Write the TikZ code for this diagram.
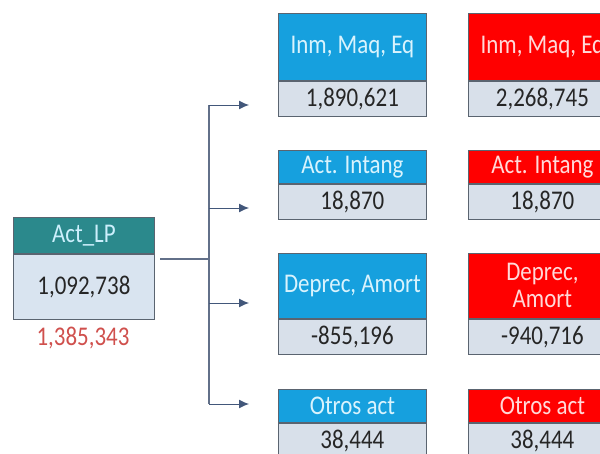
\documentclass[tikz,border=0pt]{standalone}
\usepackage{fontspec}
\setmainfont{Carlito}[FakeStretch=0.85]
\usetikzlibrary{arrows.meta}
\definecolor{tealhd}{HTML}{2B898C}
\definecolor{bluehd}{HTML}{16A0DE}
\definecolor{redhd}{HTML}{FF0000}
\definecolor{valfill}{HTML}{D8E0EA}
\definecolor{leftfill}{HTML}{D9E4F0}
\definecolor{rimgray}{HTML}{5A6470}
\definecolor{linkblue}{HTML}{4E6690}
\definecolor{sumred}{HTML}{D0504D}
\tikzset{
	box/.style={draw=rimgray, line width=0.8pt, anchor=north west, inner sep=0pt,
		align=center, font=\fontsize{27}{27}\selectfont},
	tealbox/.style={box, fill=tealhd, text=cyan!20!white, minimum width=141pt},
	bluebox/.style={box, fill=bluehd, text=cyan!15!white, minimum width=148pt},
	redbox/.style={box, fill=redhd, text=red!15!white, minimum width=148pt},
	valbox/.style={box, fill=valfill, text=black!85, minimum height=35pt},
	feed/.style={draw=linkblue!85!black, line width=1pt, -{Latex[length=10pt,width=9pt]}},
	spine/.style={draw=linkblue!60!gray, line width=1.2pt}
}
\begin{document}
\begin{tikzpicture}[x=1pt, y=-1pt]
		\clip (0,0) rectangle (600,453);
		\fill[white] (0,0) rectangle (600,453);
		% left block
		\node[tealbox, minimum height=36pt] (hdrL) at (13,217) {Act\_LP};
		\node[valbox, minimum width=141pt, minimum height=65pt, fill=leftfill] (valL) at (hdrL.south west) {1,092,738};
		\node[font=\fontsize{27}{27}\selectfont, text=sumred] (sumL) at (83,338) {1,385,343};
		% right blocks, blue and red
		\foreach \n/\lblA/\lblB/\numA/\numB/\y/\hh/\ay in {
			1/{Inm, Maq, Eq}/{Inm, Maq, Eq}/{1,890,621}/{2,268,745}/13/67/105,
			2/{Act. Intang}/{Act. Intang}/{18,870}/{18,870}/150/33/208,
			3/{Deprec, Amort}/{Deprec,\\Amort}/{-855,196}/{-940,716}/253/65/303,
			4/{Otros act}/{Otros act}/{38,444}/{38,444}/389/33/404}
		{
			\node[bluebox, minimum height=\hh pt] (hdrB\n) at (278,\y) {\lblA};
			\node[valbox, minimum width=148pt] (valB\n) at (hdrB\n.south west) {\numA};
			\node[redbox, minimum height=\hh pt] (hdrR\n) at (468,\y) {\lblB};
			\node[valbox, minimum width=148pt] (valR\n) at (hdrR\n.south west) {\numB};
			\coordinate (tip\n) at (249,\ay);
		}
		% connectors
		\coordinate (stem) at (160,259);
		\coordinate (trunk) at (209,259);
		\draw[spine] (stem) -- (trunk);
		\draw[spine] (trunk |- tip1) -- (trunk |- tip4);
		\foreach \n in {1,...,4}
			\draw[feed] (trunk |- tip\n) -- (tip\n);
	\end{tikzpicture}
\end{document}
